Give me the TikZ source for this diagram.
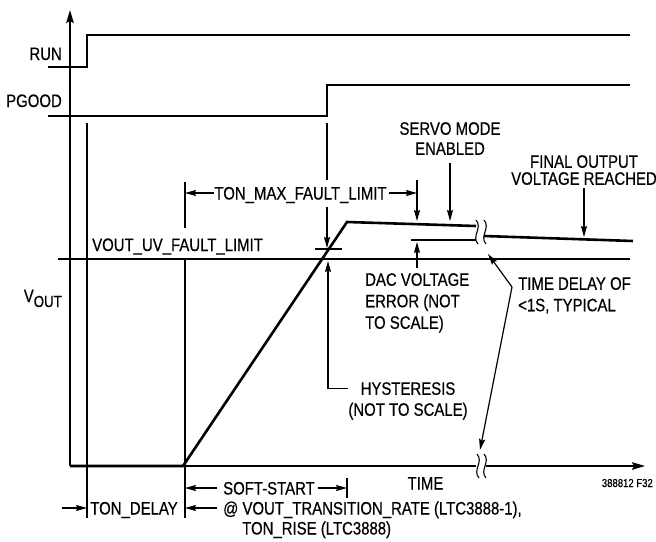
\documentclass[tikz,border=0pt]{standalone}
\usepackage{fontspec}
\setmainfont{Liberation Sans}[FakeStretch=0.83,FakeBold=0.5]
\usetikzlibrary{arrows.meta,positioning}

\begin{document}
\begin{tikzpicture}[
  x=1pt,y=-1pt,
  font=\fontsize{18}{20}\selectfont,
  trace/.style={line width=2.6pt},
  axis/.style={line width=1.8pt},
  axistip/.style={axis,-{Stealth[length=13pt,width=7.5pt,inset=2pt]}},
  guide/.style={line width=1.2pt},
  pointer/.style={guide,-{Stealth[length=11pt,width=6pt,inset=1.5pt]}},
  tag/.style={inner sep=0pt,text height=13pt,text depth=0pt},
  note/.style={inner sep=0pt,align=left},
  brk/.pic={\draw[line width=1.1pt] (-1,-12) .. controls (6,-4) and (-6,4) .. (1,12);}
]
  \useasboundingbox (0,0) rectangle (656,541);

  % axes
  \coordinate (o) at (70,466);
  \coordinate (ytop) at (70,10);
  \coordinate (cutL) at (476,466);
  \coordinate (cutR) at (486,466);
  \coordinate (xend) at (645,466);
  \draw[axistip] (o) -- (ytop);
  \draw[axis] (o) -- (cutL);
  \draw[axistip] (cutR) -- (xend);

  % waveforms
  \draw[trace] (48,67) -- (87,67) -- (87,35) -- (630,35);
  \draw[trace] (48,116) -- (327,116) -- (327,85) -- (630,85);
  \draw[trace] (o) -- (183,466) -- (347,222) -- (476,226);
  \draw[trace] (484,236) -- (633,241);

  % levels
  \coordinate (uvL) at (58,259);
  \coordinate (uvR) at (630,259);
  \draw[guide] (uvL) -- (uvR);
  \draw[guide] (411,240) -- (476,240);
  \draw[guide] (315,249) -- (342,249);

  \pic at (477,232) {brk};
  \pic at (485,232) {brk};
  \pic at (478,466) {brk};
  \pic at (485,466) {brk};

  % labels
  \node[tag,anchor=east] (run) at (62,53.5) {RUN};
  \node[tag,anchor=east] (pgood) at (62,100.5) {PGOOD};
  \node[inner sep=0pt,anchor=base east] (vout) at (62,302)
    {V\raisebox{-5pt}{\fontsize{16}{16}\selectfont OUT}};
  \node[tag,anchor=west] (uv) at (92,244.5) {VOUT\_UV\_FAULT\_LIMIT};
  \node[tag] (tonmax) at (300.5,193) {TON\_MAX\_FAULT\_LIMIT};
  \node[note,align=center,anchor=north] (servo) at (450,122) {SERVO MODE\\ENABLED};
  \node[note,align=center,anchor=north] (final) at (584,155)
    {FINAL OUTPUT\\[-3pt]VOLTAGE REACHED};
  \node[note,anchor=north west] (dac) at (365,273)
    {DAC VOLTAGE\\[1.5pt]ERROR (NOT\\[1.5pt]TO SCALE)};
  \node[note,anchor=north west] (delay) at (518,277)
    {TIME DELAY OF\\[1.5pt]<1S, TYPICAL};
  \node[note,align=center,anchor=north] (hyst) at (408,382)
    {HYSTERESIS\\[1pt](NOT TO SCALE)};
  \node[tag] (time) at (425.5,483) {TIME};
  \node[inner sep=0pt,anchor=base east,font=\fontsize{11.5}{12}\selectfont]
    (fig) at (653,487) {388812 F32};
  \node[tag,anchor=west] (soft) at (223,488) {SOFT-START};
  \node[tag] (tondelay) at (134,508) {TON\_DELAY};
  \node[tag,anchor=west] (rate) at (223,508) {@ VOUT\_TRANSITION\_RATE (LTC3888-1),};
  \node[tag,anchor=west] (rise) at (242,528) {TON\_RISE (LTC3888)};

  % timing markers
  \coordinate (dlyTop) at (87,123);
  \coordinate (dlyBot) at (87,518);
  \coordinate (ssTop) at (185,182);
  \coordinate (ssBot) at (185,518);
  \coordinate (pgTop) at (327,123);
  \coordinate (hyTop) at (327,248);
  \coordinate (maxTop) at (417,180);
  \coordinate (maxTip) at (417,221);
  \coordinate (ssEndTop) at (347,478);
  \coordinate (ssEndBot) at (347,498);
  \coordinate (dlyIn) at (62,508);

  \draw[guide] (dlyTop) -- (dlyBot);
  \draw[guide,shorten >=10pt] (ssTop) -- (ssTop |- uv.north);
  \draw[guide] (ssTop |- uvL) -- (ssBot);
  \draw[guide,shorten >=6pt] (pgTop) -- (pgTop |- tonmax.north);
  \draw[pointer,shorten <=7pt] (pgTop |- tonmax.south) -- (hyTop);
  \draw[guide] (ssEndTop) -- (ssEndBot);

  \draw[pointer] (tonmax.west) -- (tonmax.west -| ssTop);
  \draw[pointer,shorten <=2pt] (tonmax.east) -- (tonmax.east -| maxTop);
  \draw[pointer] (maxTop) -- (maxTip);

  % annotations
  \coordinate (servoTip) at (450,221);
  \coordinate (finalTip) at (584,237);
  \coordinate (dacTip) at (417,242);
  \coordinate (hyTip) at (328,261);
  \coordinate (tdV) at ([xshift=-6pt,yshift=-10pt]delay.north west);
  \coordinate (tdUp) at (488,254);
  \coordinate (tdDn) at (480,450);

  \draw[pointer,shorten <=8pt] (servo.south) -- (servoTip);
  \draw[pointer,shorten <=3pt] (final.south) -- (finalTip);
  \draw[pointer,shorten <=5pt] (dacTip |- dac.north) -- (dacTip);
  \draw[pointer] ([yshift=-6.5pt]hyst.north west) -| (hyTip);
  \draw[pointer] (tdV) -- (tdUp);
  \draw[pointer] (tdV) -- (tdDn);

  \draw[pointer,shorten <=6pt] (soft.west) -- (soft.west -| ssTop);
  \draw[pointer,shorten <=3pt] (soft.east) -- (soft.east -| ssEndTop);
  \draw[pointer] (dlyIn) -- (dlyIn -| dlyTop);
  \draw[pointer,shorten <=6pt] (rate.west) -- (rate.west -| ssTop);
\end{tikzpicture}
\end{document}
